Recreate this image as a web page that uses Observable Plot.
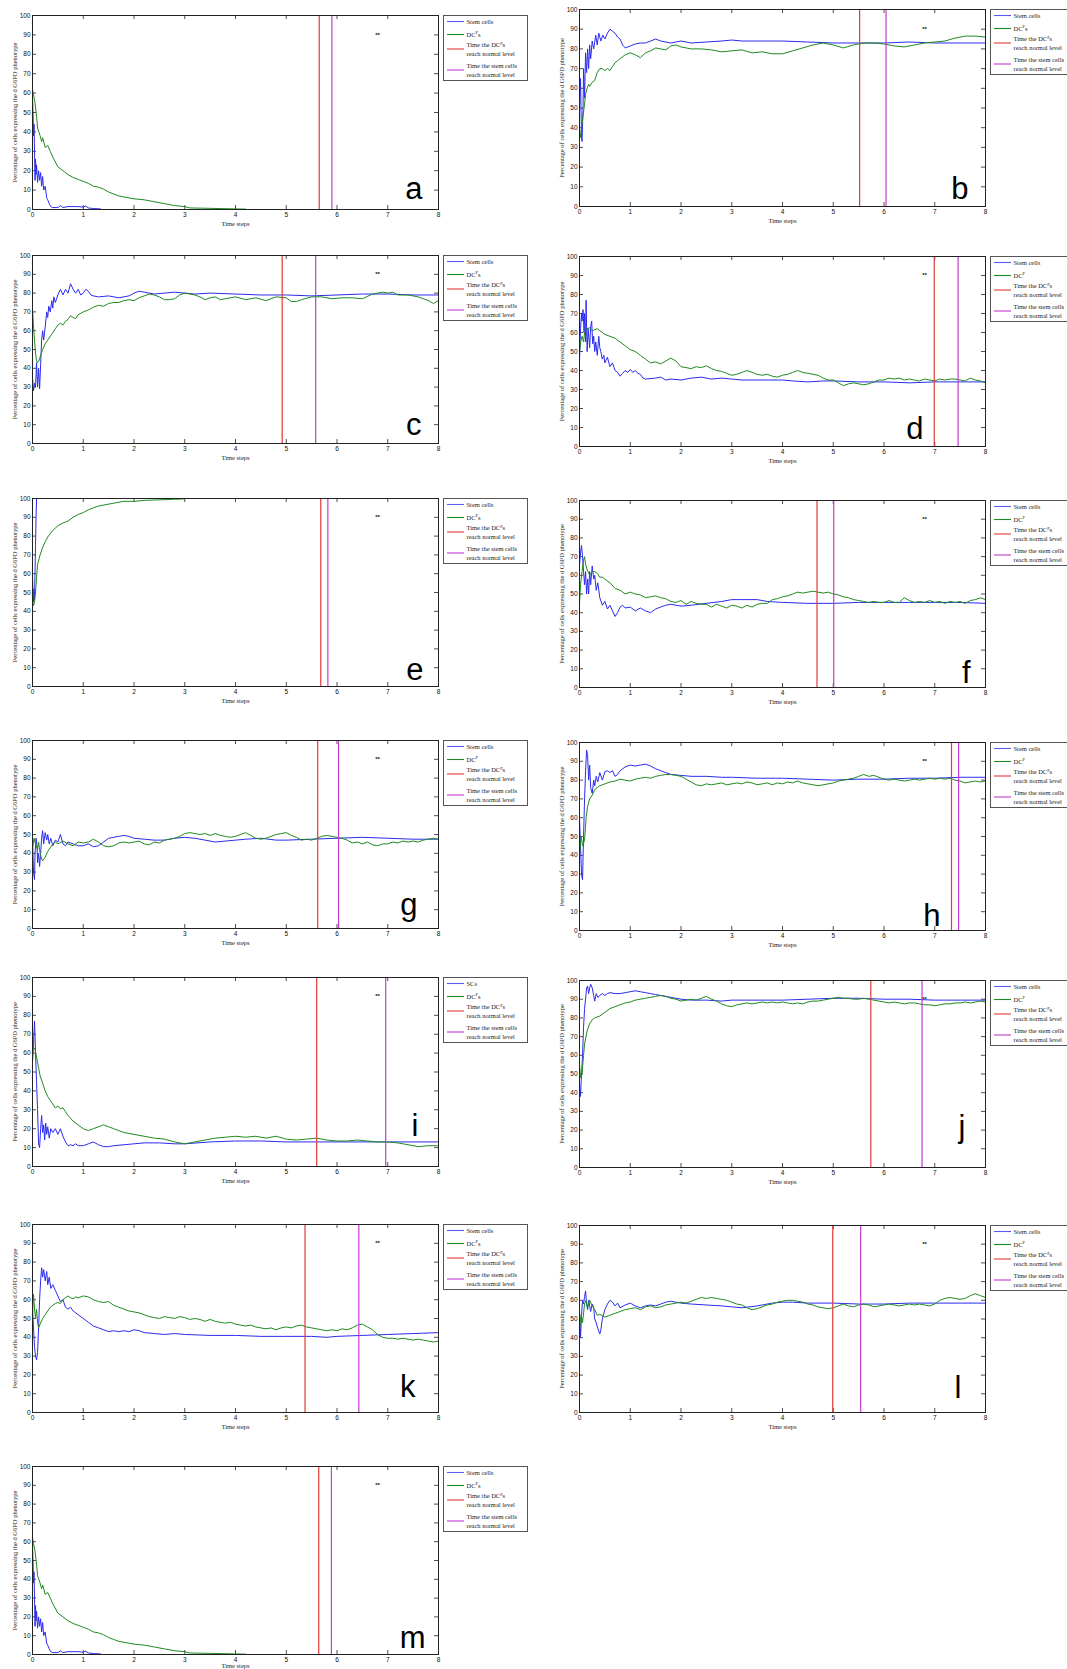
<!DOCTYPE html>
<html><head><meta charset="utf-8">
<script src="https://cdn.jsdelivr.net/npm/d3@7"></script>
<script src="https://cdn.jsdelivr.net/npm/@observablehq/plot@0.6"></script>
<style>
html,body{margin:0;padding:0;background:#fff;}
#fig{position:relative;width:1067px;height:1669px;overflow:hidden;background:#fff;}
.panel,.legend{position:absolute;}
</style></head><body><div id="fig"></div>
<script>
// ---------- tick values ----------
const xTicks = [0,1,2,3,4,5,6,7,8];
const yTicks = [0,10,20,30,40,50,60,70,80,90,100];
const starMark = {t: 6.8, v: 90};
const xLabel = "Time steps";
const yLabel = "Percentage of cells expressing the d G6PD phenotype";

// ---------- series: [time step, % of cells] ----------
const a_stem = [[0,58],[0.01,50],[0.02,38],[0.03,44],[0.04,30],[0.05,15],[0.06,26],[0.07,18],[0.08,23],[0.1,14],[0.12,20],[0.14,15],[0.16,19],[0.18,12],[0.2,17],[0.22,10],[0.25,12],[0.28,6],[0.3,5],[0.33,3],[0.36,1.5],[0.4,1],[0.5,1],[0.55,2],[0.6,1],[0.7,1.5],[0.8,1.5],[0.9,1.5],[1.0,1.2],[1.05,1.8],[1.1,0.8],[1.2,0.5],[1.34,0.3]];
const a_dc = [[0,62],[0.02,59],[0.05,55],[0.08,48],[0.1,42],[0.15,38],[0.18,35],[0.2,37],[0.25,32],[0.3,33],[0.35,30],[0.4,27],[0.5,22],[0.6,20],[0.7,18],[0.8,16.5],[0.9,15.5],[1.0,14.5],[1.1,13.5],[1.2,12],[1.3,11.5],[1.4,10.5],[1.5,9],[1.6,8],[1.7,7],[1.8,6.5],[1.9,6],[2.0,5.5],[2.2,5],[2.4,4],[2.6,3],[2.8,2],[3.0,1.5],[3.1,0.8],[3.5,0.6],[4.0,0.3],[4.2,0.2]];

const b_stem = [[0,50],[0.02,65],[0.04,35],[0.05,33],[0.07,50],[0.08,70],[0.1,55],[0.12,78],[0.14,68],[0.16,80],[0.18,70],[0.2,82],[0.22,75],[0.25,84],[0.28,80],[0.32,87],[0.35,82],[0.38,88],[0.42,84],[0.46,87],[0.5,85],[0.55,88],[0.6,90],[0.65,89],[0.7,88],[0.75,86],[0.8,85],[0.85,82],[0.9,80.5],[1.0,81.5],[1.1,82.5],[1.2,83],[1.3,83],[1.4,84],[1.5,85],[1.6,84],[1.8,83],[2.0,84],[2.2,83],[2.5,83.5],[2.8,84],[3.0,84.5],[3.2,84],[3.5,84],[4.0,84],[4.5,83.5],[5.0,83],[5.5,83],[6.0,83],[6.5,83.5],[7.0,83],[7.5,83],[8.0,83]];
const b_dc = [[0,40],[0.02,35],[0.05,42],[0.08,48],[0.1,52],[0.12,57],[0.15,60],[0.18,62],[0.2,61],[0.25,63],[0.3,64],[0.35,68],[0.4,70],[0.45,70],[0.5,69],[0.55,70],[0.6,69],[0.65,71],[0.7,73],[0.75,74],[0.8,75],[0.9,77],[1.0,78],[1.1,77],[1.2,75.5],[1.3,78],[1.4,79],[1.5,80.5],[1.6,80],[1.7,79.5],[1.8,81.5],[1.9,82],[2.0,81],[2.2,80],[2.4,80],[2.6,79.5],[2.8,78.5],[3.0,79],[3.2,79.5],[3.4,78],[3.6,78.5],[3.8,77.5],[4.0,77.5],[4.2,79],[4.4,80.5],[4.6,82],[4.8,83],[5.0,82],[5.2,80.5],[5.4,82],[5.6,83],[5.8,83],[6.0,82.5],[6.2,81.5],[6.4,81],[6.6,82],[6.8,83],[7.0,83.5],[7.2,84],[7.4,85.5],[7.6,86.5],[7.8,86.5],[8.0,86]];

const c_stem = [[0,35],[0.02,28],[0.04,32],[0.06,30],[0.08,43],[0.1,30],[0.12,40],[0.14,29],[0.16,42],[0.18,55],[0.2,60],[0.22,55],[0.25,62],[0.28,70],[0.3,67],[0.32,73],[0.35,70],[0.38,76],[0.4,72],[0.42,78],[0.45,75],[0.5,79],[0.55,82],[0.6,79],[0.65,82],[0.7,80],[0.75,85],[0.8,82],[0.85,80],[0.9,82],[0.95,79],[1.0,80],[1.05,82],[1.1,81],[1.15,79],[1.2,78.5],[1.3,78],[1.5,78.5],[1.7,77.5],[1.9,78.5],[2.0,80],[2.1,81],[2.2,80.5],[2.4,79.5],[2.6,80],[2.8,80.5],[3.0,80],[3.2,79.5],[3.5,80],[4.0,79.5],[4.5,79],[5.0,79],[5.5,78.5],[6.0,79],[6.5,79.5],[7.0,79.5],[7.5,79],[8.0,79]];
const c_dc = [[0,72],[0.02,62],[0.04,55],[0.06,48],[0.08,44],[0.1,43],[0.12,43.5],[0.15,46],[0.2,50],[0.25,53],[0.3,55],[0.35,57],[0.4,59],[0.45,61],[0.5,63],[0.55,64],[0.6,63],[0.65,65],[0.7,66],[0.75,68],[0.8,67],[0.85,66.5],[0.9,68.5],[1.0,70],[1.1,71],[1.2,72.5],[1.3,73.5],[1.4,73],[1.5,74.5],[1.6,75],[1.7,75],[1.8,76],[1.9,76.5],[2.0,76],[2.1,77.5],[2.2,78.5],[2.3,79.5],[2.4,79],[2.5,78],[2.6,76.5],[2.7,76.5],[2.8,77],[2.9,79],[3.0,80],[3.1,79.5],[3.2,79],[3.3,78],[3.4,76.5],[3.5,77.5],[3.6,78],[3.7,76.5],[3.8,77],[4.0,78],[4.2,76.5],[4.4,77.5],[4.6,76],[4.8,78],[5.0,77.5],[5.1,75.5],[5.2,75.5],[5.3,76.5],[5.5,78],[5.7,78],[5.9,77],[6.1,77.5],[6.3,77.5],[6.5,77],[6.7,79.5],[6.9,80.5],[7.0,80],[7.1,80.5],[7.2,79],[7.4,79],[7.6,78],[7.8,76],[7.9,74.5],[8.0,76]];

const d_stem = [[0,45],[0.02,62],[0.04,70],[0.05,66],[0.07,72],[0.09,60],[0.1,70],[0.12,55],[0.13,77],[0.15,50],[0.17,62],[0.2,52],[0.22,63],[0.24,66],[0.26,54],[0.28,58],[0.3,50],[0.32,55],[0.35,48],[0.38,58],[0.4,52],[0.42,50],[0.45,46],[0.48,48],[0.5,44],[0.55,47],[0.6,42],[0.65,44],[0.7,40],[0.75,39],[0.8,37],[0.85,38.5],[0.9,40],[0.95,39],[1.0,40.5],[1.05,39],[1.1,40],[1.15,38.5],[1.2,38],[1.25,36],[1.3,35.5],[1.5,36],[1.6,36.5],[1.7,35],[1.8,35.5],[2.0,35],[2.2,36],[2.4,36.5],[2.6,35.5],[2.8,36],[3.0,35.5],[3.2,35],[3.5,35],[4.0,35],[4.2,34.5],[4.5,34],[4.8,34.5],[5.0,34.5],[5.5,34],[6.0,34],[6.5,33.5],[7.0,34],[7.5,34],[8.0,34]];
const d_dc = [[0,50],[0.03,56],[0.05,58],[0.08,55],[0.1,60],[0.15,62],[0.2,62.5],[0.25,61],[0.3,61.5],[0.35,62],[0.4,61],[0.5,59],[0.6,58],[0.7,57],[0.8,55],[0.9,53],[1.0,51],[1.1,50],[1.2,48],[1.3,46],[1.4,44],[1.5,44.5],[1.6,43.5],[1.7,45],[1.8,46.5],[1.9,45],[2.0,42],[2.1,41.5],[2.2,41],[2.3,42],[2.4,41.5],[2.5,42.5],[2.6,41],[2.7,40],[2.8,39.5],[2.9,38.5],[3.0,37.5],[3.1,38],[3.2,39],[3.3,40],[3.4,39],[3.5,38],[3.6,37.5],[3.7,38],[3.8,37],[3.9,36.5],[4.0,37.5],[4.1,38],[4.2,39],[4.3,40],[4.4,39],[4.5,38.5],[4.6,38],[4.7,37.5],[4.8,36],[4.9,35],[5.0,35],[5.1,33.5],[5.2,32],[5.3,33],[5.4,33.5],[5.5,33],[5.6,32.5],[5.7,33],[5.8,34],[5.9,35],[6.0,35],[6.1,36],[6.2,35.5],[6.3,36],[6.4,35],[6.5,35.5],[6.6,35],[6.7,34.5],[6.8,35.5],[6.9,35],[7.0,34.5],[7.1,35.5],[7.2,35],[7.3,35.5],[7.4,35.5],[7.5,35],[7.6,34.5],[7.7,36],[7.8,35],[7.9,34.5],[8.0,33.5]];

const e_stem = [[0,60],[0.01,48],[0.02,45],[0.03,52],[0.04,46],[0.05,62],[0.06,75],[0.07,90],[0.08,100],[0.1,100]];
const e_dc = [[0,46],[0.02,43],[0.04,45],[0.06,50],[0.08,58],[0.1,65],[0.15,70],[0.2,74],[0.25,77],[0.3,79.5],[0.4,83],[0.5,85.5],[0.6,87],[0.7,88],[0.8,90],[0.9,91.5],[1.0,92.5],[1.1,94],[1.2,95],[1.3,96],[1.4,96.5],[1.5,97],[1.6,97.5],[1.8,98.5],[2.0,98.5],[2.2,99],[2.5,99.3],[2.8,99.6],[3.0,99.8]];

const f_stem = [[0,65],[0.02,72],[0.04,76],[0.06,70],[0.08,62],[0.1,55],[0.12,62],[0.14,50],[0.16,58],[0.18,50],[0.2,62],[0.22,55],[0.25,65],[0.28,58],[0.3,60],[0.33,52],[0.36,56],[0.4,48],[0.45,44],[0.5,46],[0.55,42],[0.6,44],[0.65,41],[0.7,38],[0.75,40],[0.8,43],[0.85,44],[0.9,42.5],[1.0,43],[1.1,41],[1.2,42.5],[1.3,41],[1.4,40],[1.5,42],[1.6,43],[1.7,44],[1.8,44.5],[2.0,43.5],[2.2,44],[2.5,45],[2.8,46],[3.0,47],[3.2,47],[3.5,47],[3.7,46],[4.0,45.5],[4.5,45],[5.0,45],[5.5,45.5],[6.0,45.5],[6.5,45.5],[7.0,45.5],[7.5,45.5],[8.0,45]];
const f_dc = [[0,45],[0.02,55],[0.05,62],[0.08,68],[0.1,70],[0.12,66],[0.15,63],[0.2,60],[0.25,62],[0.3,62],[0.35,61],[0.4,59],[0.45,59],[0.5,58],[0.6,56],[0.7,53],[0.8,52],[0.9,50],[1.0,51],[1.1,50],[1.2,49.5],[1.3,48],[1.4,48.5],[1.5,49],[1.6,48],[1.7,47.5],[1.8,46],[1.9,45.5],[2.0,46.5],[2.1,44.5],[2.2,46],[2.3,45],[2.4,44.5],[2.5,44.5],[2.6,43],[2.7,44.5],[2.8,43.5],[2.9,42.5],[3.0,44],[3.1,43.5],[3.2,42.5],[3.3,44],[3.4,43],[3.5,44.5],[3.6,45],[3.7,45],[3.8,47],[3.9,47.5],[4.0,48.5],[4.1,49],[4.2,50],[4.3,51],[4.4,50.5],[4.5,51],[4.6,51.5],[4.7,51],[4.8,50.5],[4.9,51],[5.0,50],[5.1,49.5],[5.2,48.5],[5.3,48],[5.4,47],[5.5,46.5],[5.6,46],[5.7,45.5],[5.8,46],[5.9,45.5],[6.0,45.5],[6.1,46.5],[6.2,45.5],[6.3,45.5],[6.4,48],[6.5,46.5],[6.6,45.5],[6.7,46],[6.8,45.5],[6.9,46.5],[7.0,45.5],[7.1,46],[7.2,45],[7.3,46],[7.4,45.5],[7.5,46],[7.6,45],[7.7,46.5],[7.8,47],[7.9,48],[8.0,47]];

const g_stem = [[0,48],[0.02,30],[0.04,26],[0.05,40],[0.07,48],[0.09,44],[0.1,35],[0.12,40],[0.14,33],[0.16,40],[0.18,48],[0.2,52],[0.22,45],[0.25,51],[0.28,47],[0.3,50],[0.33,45],[0.36,48],[0.4,44],[0.45,47],[0.5,46],[0.55,50],[0.6,45],[0.65,44],[0.7,46],[0.8,45],[0.9,44],[1.0,44],[1.1,45],[1.2,43.5],[1.3,44],[1.4,46],[1.5,48],[1.6,48.5],[1.7,49],[1.8,49.5],[1.9,49],[2.0,48],[2.2,47.5],[2.4,47],[2.6,47],[2.8,48],[3.0,48.5],[3.2,48],[3.4,47],[3.6,46],[3.8,46.5],[4.0,47],[4.2,47.5],[4.5,48],[4.8,47],[5.0,47],[5.5,47.5],[6.0,48],[6.5,48.5],[7.0,48],[7.5,47.5],[8.0,47.5]];
const g_dc = [[0,43],[0.03,48],[0.06,45],[0.1,42],[0.12,46],[0.15,40],[0.18,37],[0.2,36],[0.25,38],[0.3,41],[0.35,43],[0.4,45],[0.45,46],[0.5,45],[0.6,46.5],[0.7,45],[0.8,44],[0.9,46],[1.0,45.5],[1.1,46],[1.2,47.5],[1.3,46],[1.4,44],[1.5,43.5],[1.6,44],[1.7,45.5],[1.8,46],[1.9,45.5],[2.0,46],[2.1,46.5],[2.2,45],[2.3,44.5],[2.4,46],[2.5,45.5],[2.6,47],[2.7,47.5],[2.8,48],[2.9,49],[3.0,50.5],[3.1,51],[3.2,50.5],[3.3,50],[3.4,50.5],[3.5,49.5],[3.6,50.5],[3.7,49.5],[3.8,49],[3.9,48.5],[4.0,49],[4.1,50],[4.2,51],[4.3,49.5],[4.4,48],[4.5,47.5],[4.6,48],[4.7,49],[4.8,50],[4.9,50.5],[5.0,51],[5.1,49.5],[5.2,48.5],[5.3,47],[5.4,47.5],[5.5,47],[5.6,48],[5.7,49],[5.8,49.5],[5.9,49],[6.0,48.5],[6.1,48],[6.2,47],[6.3,45.5],[6.4,46],[6.5,45],[6.6,46],[6.7,44.5],[6.8,44],[6.9,45],[7.0,45],[7.1,46],[7.2,45.5],[7.3,46.5],[7.4,46],[7.5,46.5],[7.6,46],[7.7,47],[7.8,47.5],[7.9,48],[8.0,47.5]];

const h_stem = [[0,60],[0.02,45],[0.04,30],[0.06,27],[0.08,50],[0.1,70],[0.12,85],[0.14,96],[0.16,93],[0.18,80],[0.2,88],[0.22,76],[0.25,73],[0.28,80],[0.3,77],[0.33,82],[0.36,79],[0.4,84],[0.45,80],[0.5,84.5],[0.55,85],[0.6,84],[0.65,85],[0.7,82],[0.75,83],[0.8,85],[0.85,86],[0.9,87],[1.0,88],[1.1,87.5],[1.2,88],[1.3,88.5],[1.4,87.5],[1.5,86],[1.6,85],[1.7,84],[1.8,83],[2.0,82.5],[2.2,82],[2.5,82],[2.8,81.5],[3.0,81.5],[3.5,81],[4.0,81],[4.5,80.5],[5.0,80],[5.5,80.5],[6.0,80.5],[6.5,81],[7.0,81],[7.5,81.5],[8.0,81.5]];
const h_dc = [[0,40],[0.03,50],[0.06,45],[0.1,48],[0.13,60],[0.16,66],[0.2,70],[0.25,72],[0.3,75],[0.35,76],[0.4,77],[0.5,78],[0.6,79],[0.7,79.5],[0.8,80.5],[0.9,80],[1.0,79.5],[1.1,80.5],[1.2,81],[1.3,81.5],[1.4,81],[1.5,82],[1.6,82.5],[1.7,83],[1.8,83],[1.9,82.5],[2.0,82],[2.1,80.5],[2.2,79],[2.3,77.5],[2.4,77],[2.5,78],[2.6,77.5],[2.7,78],[2.8,78.5],[2.9,77.5],[3.0,78],[3.1,78.5],[3.2,78],[3.3,79],[3.4,78.5],[3.5,77.5],[3.6,78],[3.7,78.5],[3.8,77.5],[3.9,78.5],[4.0,78],[4.1,79],[4.2,78.5],[4.3,79.5],[4.4,78.5],[4.5,78],[4.6,77.5],[4.7,77],[4.8,77.5],[4.9,78],[5.0,78.5],[5.1,79.5],[5.2,80],[5.3,80.5],[5.4,81],[5.5,82],[5.6,83],[5.7,82],[5.8,82.5],[5.9,81.5],[6.0,80.5],[6.1,80],[6.2,80.5],[6.3,80],[6.4,79.5],[6.5,80],[6.6,80.5],[6.7,80],[6.8,80.5],[6.9,81],[7.0,80.5],[7.1,81],[7.2,80.5],[7.3,81],[7.4,80],[7.5,79.5],[7.6,78.5],[7.7,79],[7.8,79.5],[7.9,79],[8.0,79.5]];

const i_stem = [[0,55],[0.02,65],[0.04,77],[0.06,60],[0.08,45],[0.1,30],[0.12,12],[0.14,10],[0.16,20],[0.18,27],[0.2,18],[0.22,22],[0.24,14],[0.26,23],[0.28,17],[0.3,21],[0.33,15],[0.36,20],[0.4,18],[0.45,20],[0.5,17],[0.55,20],[0.6,16],[0.65,13],[0.7,11],[0.75,11.5],[0.8,11],[0.85,12],[0.9,11],[1.0,11],[1.1,12],[1.2,13],[1.3,11.5],[1.4,10.5],[1.5,10.5],[1.6,11],[1.8,11.5],[2.0,12],[2.2,12.5],[2.5,12.5],[2.8,12],[3.0,12],[3.5,13],[4.0,13.5],[4.5,13.5],[5.0,13],[5.5,13],[6.0,13],[6.5,13],[7.0,13],[7.5,13],[8.0,13]];
const i_dc = [[0,60],[0.02,63],[0.05,62],[0.08,58],[0.1,55],[0.15,48],[0.2,44],[0.25,40],[0.3,37],[0.35,35],[0.4,33],[0.45,31],[0.5,32],[0.55,30.5],[0.6,31],[0.65,29],[0.7,27],[0.8,24],[0.9,22],[1.0,20],[1.1,19],[1.2,20],[1.3,21],[1.4,22],[1.5,21],[1.6,20],[1.7,19],[1.8,18],[1.9,17.5],[2.0,17],[2.2,16],[2.4,15],[2.6,14.5],[2.8,13],[3.0,12],[3.1,12.5],[3.2,13],[3.4,14],[3.6,15],[3.8,15.5],[4.0,16],[4.2,15.5],[4.4,16],[4.6,15],[4.8,16],[5.0,14.5],[5.2,14],[5.4,14.5],[5.6,15],[5.8,14],[6.0,13.5],[6.2,13.5],[6.4,14],[6.6,13.5],[6.8,13],[7.0,13],[7.2,12.5],[7.4,11.5],[7.6,10.5],[7.8,11],[8.0,11]];

const j_stem = [[0,45],[0.02,38],[0.04,50],[0.06,60],[0.08,75],[0.1,85],[0.12,90],[0.14,96],[0.16,97],[0.18,93],[0.2,96],[0.22,98],[0.25,96],[0.28,92],[0.3,89],[0.33,93],[0.36,91],[0.4,92],[0.45,93],[0.5,92],[0.55,93],[0.6,93.5],[0.7,93],[0.8,93],[0.9,93.5],[1.0,94],[1.1,94.5],[1.2,94],[1.3,93.5],[1.4,93],[1.5,92.5],[1.6,92],[1.8,91],[2.0,90],[2.2,89.5],[2.5,89.5],[2.8,89],[3.0,89.5],[3.5,89.5],[4.0,89.5],[4.5,90],[5.0,90.5],[5.5,90.5],[6.0,90],[6.5,90],[7.0,89.5],[7.5,89.5],[8.0,89.5]];
const j_dc = [[0,55],[0.02,48],[0.05,50],[0.08,60],[0.1,66],[0.15,73],[0.2,77],[0.25,79],[0.3,80],[0.4,81],[0.5,83],[0.6,85],[0.7,86],[0.8,87],[0.9,88],[1.0,88.5],[1.1,89.5],[1.2,90],[1.3,90.5],[1.4,91],[1.5,91.5],[1.6,92],[1.7,91.5],[1.8,90.5],[1.9,90],[2.0,89],[2.1,89.5],[2.2,90],[2.3,89.5],[2.4,90.5],[2.5,91.5],[2.6,90],[2.7,89],[2.8,87.5],[2.9,86.5],[3.0,86],[3.1,87],[3.2,87.5],[3.3,88],[3.4,87.5],[3.5,88],[3.6,88.5],[3.7,88],[3.8,88.5],[3.9,88],[4.0,88.5],[4.1,88],[4.2,87.5],[4.3,88],[4.4,87.5],[4.5,88.5],[4.6,89],[4.7,89],[4.8,89.5],[4.9,90],[5.0,90.5],[5.1,91],[5.2,90.5],[5.3,90.5],[5.4,90],[5.5,90],[5.6,90.5],[5.7,90],[5.8,89.5],[5.9,89],[6.0,88.5],[6.1,88],[6.2,88.5],[6.3,88],[6.4,87.5],[6.5,88],[6.6,88],[6.7,87.5],[6.8,87],[6.9,87],[7.0,86.5],[7.1,87],[7.2,87.5],[7.3,87.5],[7.4,88],[7.5,88],[7.6,88.5],[7.7,88],[7.8,88.5],[7.9,89],[8.0,88.5]];

const k_stem = [[0,55],[0.02,45],[0.04,35],[0.06,30],[0.08,28],[0.1,32],[0.12,45],[0.14,60],[0.16,70],[0.18,77],[0.2,72],[0.22,76],[0.25,70],[0.28,75],[0.3,68],[0.33,72],[0.36,66],[0.4,68],[0.45,65],[0.5,62],[0.55,59],[0.6,60],[0.65,56],[0.7,55],[0.75,56],[0.8,54],[0.9,52],[1.0,50],[1.1,48],[1.2,46],[1.3,45],[1.4,44],[1.5,43],[1.6,43.5],[1.7,43],[1.8,43.5],[1.9,43],[2.0,44],[2.1,43.5],[2.2,42.5],[2.4,42],[2.6,41.5],[2.8,42],[3.0,41.5],[3.5,41],[4.0,41],[4.5,40.5],[5.0,40.5],[5.5,40.5],[5.8,40],[6.0,40.5],[6.5,41],[7.0,41.5],[7.5,42],[8.0,42.5]];
const k_dc = [[0,52],[0.02,63],[0.04,55],[0.06,50],[0.08,55],[0.1,48],[0.12,45],[0.15,47],[0.2,50],[0.25,52],[0.3,54],[0.35,56],[0.4,57],[0.45,58],[0.5,58.5],[0.55,58],[0.6,60],[0.65,61],[0.7,62],[0.75,61],[0.8,60.5],[0.85,61.5],[0.9,61],[1.0,62],[1.1,61.5],[1.2,60],[1.3,59],[1.4,58.5],[1.5,59],[1.6,57],[1.7,56],[1.8,55],[1.9,54],[2.0,53.5],[2.1,53],[2.2,52],[2.3,51],[2.4,50.5],[2.5,50],[2.6,51],[2.7,50.5],[2.8,50],[2.9,51],[3.0,50.5],[3.1,49.5],[3.2,50],[3.3,49.5],[3.4,48.5],[3.5,49.5],[3.6,48.5],[3.7,48],[3.8,47.5],[3.9,48],[4.0,47],[4.1,46.5],[4.2,46],[4.3,46.5],[4.4,45.5],[4.5,45],[4.6,44.5],[4.7,45],[4.8,44],[4.9,45],[5.0,45.5],[5.1,45],[5.2,46],[5.3,46.5],[5.4,45.5],[5.5,45],[5.6,44.5],[5.7,44],[5.8,43.5],[5.9,44],[6.0,43.5],[6.1,44.5],[6.2,44],[6.3,45],[6.4,46.5],[6.5,47],[6.6,45.5],[6.7,44],[6.8,41.5],[6.9,40],[7.0,39.5],[7.1,39.5],[7.2,39],[7.3,39.5],[7.4,39],[7.5,38.5],[7.6,39],[7.7,38.5],[7.8,38],[7.9,37.5],[8.0,38]];

const l_stem = [[0,55],[0.02,40],[0.04,52],[0.06,60],[0.08,58],[0.1,62],[0.12,65],[0.14,58],[0.16,55],[0.18,60],[0.2,57],[0.22,54],[0.25,58],[0.28,56],[0.3,50],[0.33,48],[0.36,45],[0.4,42],[0.42,44],[0.45,50],[0.5,55],[0.55,58],[0.6,60],[0.65,59],[0.7,57],[0.75,58.5],[0.8,56],[0.9,57.5],[1.0,58.5],[1.1,57],[1.2,56],[1.3,57],[1.4,57.5],[1.5,57],[1.6,58],[1.7,59],[1.8,59.5],[1.9,59],[2.0,58.5],[2.2,58],[2.5,57.5],[2.8,57],[3.0,56.5],[3.2,56],[3.5,57],[3.8,58.5],[4.0,59],[4.2,59],[4.5,58.5],[5.0,58.5],[5.5,58],[6.0,58],[6.5,58.5],[7.0,58.5],[7.5,58.5],[8.0,58.5]];
const l_dc = [[0,45],[0.03,52],[0.06,48],[0.1,58],[0.13,60],[0.16,56],[0.2,60],[0.25,57],[0.3,55],[0.35,52],[0.4,52.5],[0.5,51],[0.6,52],[0.7,53],[0.8,54],[0.9,55],[1.0,55.5],[1.1,56],[1.2,55],[1.3,56.5],[1.4,57],[1.5,56],[1.6,56.5],[1.7,57.5],[1.8,58],[1.9,58.5],[2.0,59],[2.1,58.5],[2.2,59.5],[2.3,60.5],[2.4,61.5],[2.5,61],[2.6,61.5],[2.7,61],[2.8,60.5],[2.9,60],[3.0,59],[3.1,58],[3.2,57.5],[3.3,56],[3.4,55],[3.5,55.5],[3.6,56.5],[3.7,57.5],[3.8,58],[3.9,59],[4.0,59.5],[4.1,60],[4.2,60],[4.3,59.5],[4.4,59],[4.5,58],[4.6,57.5],[4.7,56.5],[4.8,56],[4.9,55.5],[5.0,56],[5.1,57],[5.2,58],[5.3,57],[5.4,56.5],[5.5,57.5],[5.6,58],[5.7,57.5],[5.8,56.5],[5.9,57],[6.0,57.5],[6.1,58],[6.2,57.5],[6.3,57],[6.4,57.5],[6.5,58],[6.6,57.5],[6.7,58],[6.8,57.5],[6.9,57],[7.0,58],[7.1,60],[7.2,61],[7.3,61.5],[7.4,61],[7.5,60.5],[7.6,61],[7.7,62.5],[7.8,63.5],[7.9,62.5],[8.0,61.5]];

// panel m repeats the curves of panel a
const m_stem = a_stem;
const m_dc = a_dc;

// times at which DCs / stem cells reach normal level (vertical lines)
const tDC   = {a:5.65,b:5.52,c:4.92,d:6.99,e:5.68,f:4.68,g:5.62,h:7.33,i:5.60,j:5.74,k:5.37,l:4.99,m:5.64};
const tStem = {a:5.90,b:6.04,c:5.58,d:7.46,e:5.82,f:5.01,g:6.03,h:7.47,i:6.96,j:6.75,k:6.43,l:5.54,m:5.89};
const stemNames = {a:"Stem cells",b:"Stem cells",c:"Stem cells",d:"Stem cells",e:"Stem cells",f:"Stem cells",g:"Stem cells",h:"Stem cells",i:"SCs",j:"Stem cells",k:"Stem cells",l:"Stem cells",m:"Stem cells"};
const dcPlural = {a:true,b:true,c:true,d:false,e:true,f:false,g:false,h:false,i:true,j:false,k:true,l:false,m:true};
const series = {a:[a_stem,a_dc],b:[b_stem,b_dc],c:[c_stem,c_dc],d:[d_stem,d_dc],e:[e_stem,e_dc],f:[f_stem,f_dc],g:[g_stem,g_dc],h:[h_stem,h_dc],i:[i_stem,i_dc],j:[j_stem,j_dc],k:[k_stem,k_dc],l:[l_stem,l_dc],m:[m_stem,m_dc]};

// ---------- layout (page pixels) ----------
const colLeft = [32, 579];
const PW = 406;
const layout = {
  a:{col:0,top:15,bottom:209,lr:16,lb:11},
  b:{col:1,top:9,bottom:206,lr:17,lb:8},
  c:{col:0,top:255,bottom:443,lr:17,lb:9},
  d:{col:1,top:256,bottom:446,lr:62,lb:8},
  e:{col:0,top:498,bottom:686,lr:15,lb:7},
  f:{col:1,top:500,bottom:687,lr:15,lb:5},
  g:{col:0,top:740,bottom:928,lr:21,lb:14},
  h:{col:1,top:742,bottom:930,lr:45,lb:5},
  i:{col:0,top:977,bottom:1166,lr:20,lb:31},
  j:{col:1,top:980,bottom:1167,lr:20,lb:31},
  k:{col:0,top:1224,bottom:1412,lr:23,lb:16},
  l:{col:1,top:1225,bottom:1412,lr:24,lb:15},
  m:{col:0,top:1466,bottom:1654,lr:13,lb:7,xlab:11}
};

const BLUE = "#2b2bef", GREEN = "#1f8a1f", RED = "#e23a36", MAG = "#c43ad2";
const SERIF = "'Liberation Serif','Times New Roman',serif";
const SANS = "'Liberation Sans',Arial,sans-serif";
const fig = document.getElementById("fig");

for (const id of Object.keys(layout)) {
  const L = layout[id];
  const H = L.bottom - L.top;
  const ml = 30, mt = 6, mb = 24, mr = 4;
  const [stem, dc] = series[id];
  const px = d => d[0], py = d => d[1];
  const chart = Plot.plot({
    width: ml + PW + mr, height: mt + H + mb,
    marginLeft: ml, marginRight: mr, marginTop: mt, marginBottom: mb,
    style: {fontFamily: SANS, fontSize: "6.5px", background: "transparent", overflow: "visible", color: "#111"},
    x: {domain: [0, 8]},
    y: {domain: [0, 100]},
    marks: [
      Plot.axisX({ticks: xTicks, tickSize: 0, tickPadding: 3, label: null, fontSize: 6.5}),
      Plot.axisY({ticks: yTicks, tickSize: 0, tickPadding: 2, label: null, fontSize: 6.5}),
      Plot.ruleX(xTicks, {x: d => d, insetTop: H - 4, stroke: "#222", strokeWidth: 0.8}),
      Plot.ruleX(xTicks, {x: d => d, insetBottom: H - 4, stroke: "#222", strokeWidth: 0.8}),
      Plot.ruleY(yTicks, {y: d => d, insetRight: PW - 4, stroke: "#222", strokeWidth: 0.8}),
      Plot.ruleY(yTicks, {y: d => d, insetLeft: PW - 4, stroke: "#222", strokeWidth: 0.8}),
      Plot.line(stem, {x: px, y: py, stroke: BLUE, strokeWidth: 1}),
      Plot.line(dc, {x: px, y: py, stroke: GREEN, strokeWidth: 1}),
      Plot.ruleX([tDC[id]], {x: d => d, stroke: RED, strokeWidth: 1.2}),
      Plot.ruleX([tStem[id]], {x: d => d, stroke: MAG, strokeWidth: 1.2}),
      Plot.text([starMark], {x: d => d.t, y: d => d.v, text: () => "**", fontSize: 6, fontWeight: "bold", fill: "#111"}),
      Plot.text([id], {text: d => d, frameAnchor: "bottom-right", textAnchor: "end", lineAnchor: "bottom", dx: -L.lr, dy: -L.lb, fontSize: 31, fontFamily: SANS, fill: "#000"}),
      Plot.text([yLabel], {text: d => d, frameAnchor: "left", rotate: -90, dx: -18, textAnchor: "middle", lineAnchor: "middle", fontSize: 6.5, fontFamily: SERIF, fill: "#222"}),
      Plot.text([xLabel], {text: d => d, frameAnchor: "bottom", dy: L.xlab ?? 14, lineAnchor: "middle", fontSize: 6.5, fontFamily: SERIF, fill: "#222"}),
      Plot.frame({stroke: "#222", strokeWidth: 1})
    ]
  });
  const wrap = document.createElement("div");
  wrap.className = "panel";
  wrap.style.left = (colLeft[L.col] - ml) + "px";
  wrap.style.top = (L.top - mt) + "px";
  wrap.appendChild(chart);
  fig.appendChild(wrap);

  // legend box to the right of the plot
  const lx = colLeft[L.col] + PW + 4.5, ly = L.top;
  const lw = 84, lh = 65;
  const lg = d3.create("svg").attr("width", lw + 2).attr("height", lh + 2).attr("class", "legend")
    .style("left", lx + "px").style("top", ly + "px");
  lg.append("rect").attr("x", 0.5).attr("y", 0.5).attr("width", lw).attr("height", lh)
    .attr("fill", "#fff").attr("stroke", "#555").attr("stroke-width", 1);
  const rows = [
    {c: "#5a5af0", y: 6.5, lines: [[stemNames[id]]]},
    {c: GREEN, y: 19.5, lines: [["DC", "P", dcPlural[id] ? "s" : ""]]},
    {c: RED, y: 34, lines: [["Time the DC", "P", "s"], ["reach normal level"]]},
    {c: MAG, y: 55, lines: [["Time the stem cells"], ["reach normal level"]]}
  ];
  for (const r of rows) {
    lg.append("line").attr("x1", 4).attr("x2", 21).attr("y1", r.y).attr("y2", r.y)
      .attr("stroke", r.c).attr("stroke-width", 1.1);
    const n = r.lines.length;
    r.lines.forEach((parts, k) => {
      const t = lg.append("text").attr("x", 23.5).attr("y", r.y + 2.2 + (k - (n - 1) / 2) * 8.6)
        .attr("font-family", SERIF).attr("font-size", 6.5).attr("fill", "#222");
      t.append("tspan").text(parts[0]);
      if (parts.length > 1) {
        t.append("tspan").attr("font-size", 4.3).attr("dy", -2.4).text(parts[1]);
        t.append("tspan").attr("dy", 2.4).text(parts[2]);
      }
    });
  }
  fig.appendChild(lg.node());
}
</script>
</body></html>
